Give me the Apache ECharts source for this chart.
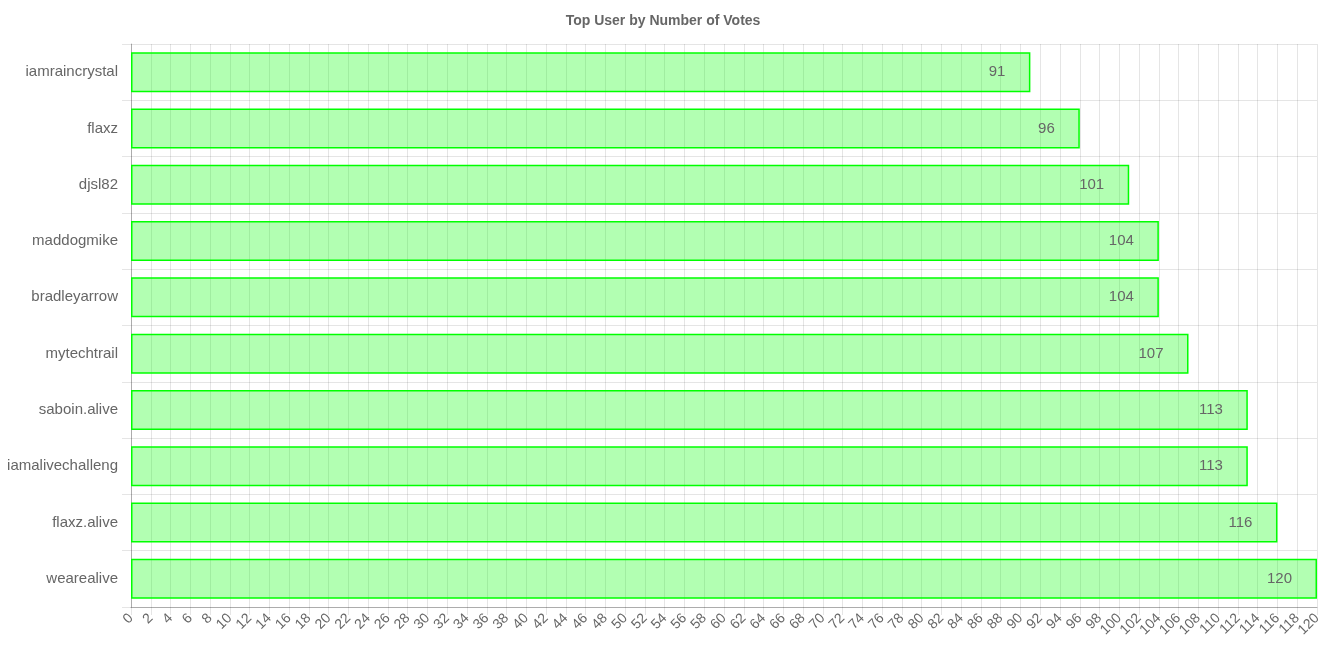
<!DOCTYPE html>
<html><head><meta charset="utf-8">
<script src="https://cdn.jsdelivr.net/npm/echarts@6/dist/echarts.min.js"></script>
<style>html,body{margin:0;padding:0;background:#fff}#c{width:1326px;height:662px}</style>
</head><body><div id="c"></div>
<script>
const categories = ["iamraincrystal","flaxz","djsl82","maddogmike","bradleyarrow","mytechtrail","saboin.alive","iamalivechalleng","flaxz.alive","wearealive"];
const votes = [91,96,101,104,104,107,113,113,116,120];
const FONT = 'Helvetica, Arial, Liberation Sans, sans-serif';
const chart = echarts.init(document.getElementById('c'));
chart.setOption({
  animation:false,
  title:{text:'Top User by Number of Votes',left:'center',top:9,textStyle:{fontFamily:FONT,fontSize:14,fontWeight:'bold',color:'#666'}},
  grid:{left:131,right:9,top:44,bottom:55,containLabel:false},
  xAxis:{type:'value',min:0,max:120,interval:2,
    axisLine:{show:true,lineStyle:{color:'rgba(0,0,0,0.25)'}},
    axisTick:{show:true,length:8,lineStyle:{color:'rgba(0,0,0,0.1)'}},
    splitLine:{show:true,lineStyle:{color:'rgba(0,0,0,0.1)'}},
    axisLabel:{rotate:45,fontSize:14,color:'#666',margin:9,fontFamily:FONT}},
  yAxis:{type:'category',data:categories,inverse:true,
    axisLine:{show:true,lineStyle:{color:'rgba(0,0,0,0.25)'}},
    axisTick:{show:true,length:9,alignWithLabel:false,lineStyle:{color:'rgba(0,0,0,0.1)'}},
    splitLine:{show:true,lineStyle:{color:'rgba(0,0,0,0.1)'}},
    axisLabel:{fontSize:15,color:'#666',margin:13,fontFamily:FONT}},
  series:[{type:'bar',data:votes,barCategoryGap:'29%',
    itemStyle:{color:'rgba(0,255,0,0.3)',borderColor:'#00ff00',borderWidth:1.5},
    label:{show:true,position:'insideRight',distance:25,color:'#666',fontSize:15,fontFamily:FONT}}]
});
</script></body></html>
